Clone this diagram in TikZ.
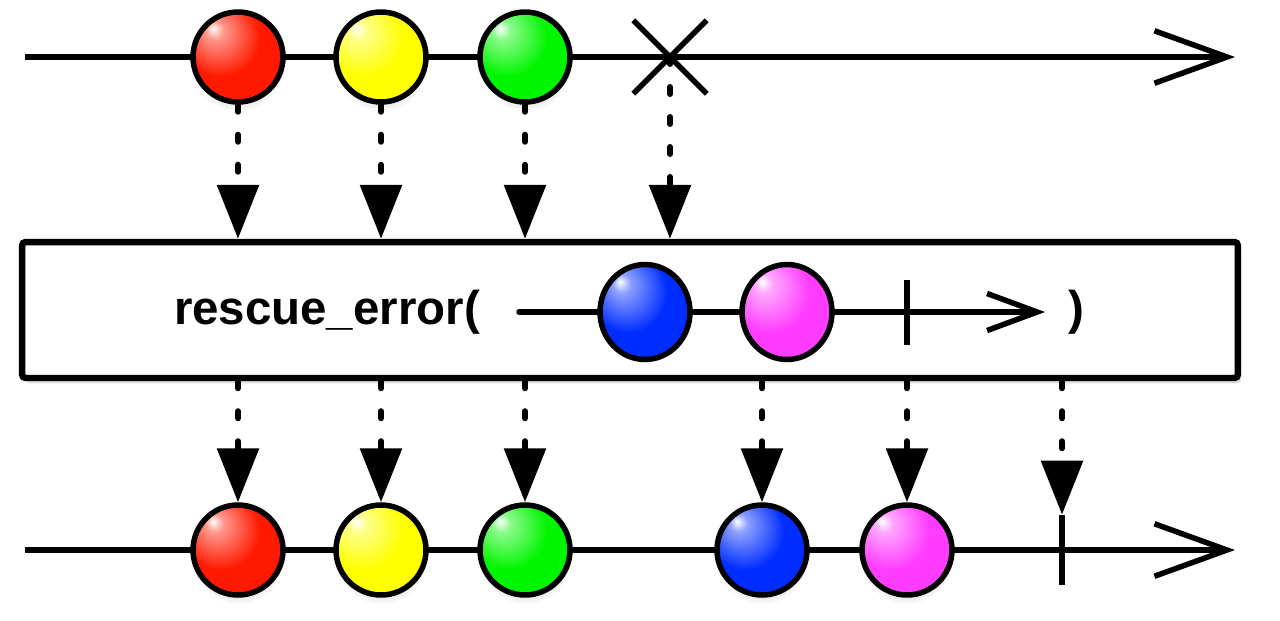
\documentclass[tikz,border=0pt]{standalone}
\usepackage{fontspec}
\setsansfont{Liberation Sans}
\usetikzlibrary{arrows.meta,shadows,shapes.geometric,shapes.misc,positioning}

\definecolor{redball}{RGB}{255,25,0}
\definecolor{yellowball}{RGB}{255,255,0}
\definecolor{greenball}{RGB}{0,245,0}
\definecolor{blueball}{RGB}{0,45,255}
\definecolor{pinkball}{RGB}{255,60,255}

\newcommand\marbleshading[2]{%
  \pgfdeclareradialshading{marble-#1}{\pgfpoint{-14bp}{16bp}}{%
    color(0bp)=(white); color(5bp)=(#2!45!white); color(22bp)=(#2);
    color(44bp)=(#2); color(58bp)=(#2!55!black); color(70bp)=(#2!50!black)}}
\marbleshading{red}{redball}
\marbleshading{yellow}{yellowball}
\marbleshading{green}{greenball}
\marbleshading{blue}{blueball}
\marbleshading{pink}{pinkball}

\tikzset{
  marble/.style={
      circle, draw, line width=0.11cm, minimum size=1.8cm, inner sep=0pt,
      shading=marble-#1,
      circular drop shadow={opacity=0.15,shadow xshift=0pt,shadow yshift=-5pt,shadow scale=1.02},
  },
  oval/.style={
      ellipse, draw, line width=0.11cm, minimum width=1.8cm, minimum height=1.9cm,
      inner sep=0pt, shading=marble-#1,
  },
  timeline/.style={
    draw, line width=0.11cm, -{Straight Barb[length=1.45cm,width=1.05cm]},
  },
  innerline/.style={
    draw, line width=0.11cm, line cap=round, -{Straight Barb[length=1cm,width=0.74cm]},
  },
  feed/.style={
    draw, line width=0.12cm, line cap=round, dash pattern=on 0.14cm off 0.46cm,
    -{Triangle[length=1.08cm,width=0.82cm]},
  },
  stop/.style={
    rectangle, fill=black, minimum width=0.11cm, minimum height=#1, inner sep=0pt,
  },
  operator/.style={
    rectangle, draw, line width=0.13cm, rounded corners=2pt, fill=white,
    minimum width=24.32cm, minimum height=2.72cm,
    drop shadow={opacity=0.25,shadow xshift=2pt,shadow yshift=-3pt},
  },
}

\begin{document}
\begin{tikzpicture}[x=0.02cm,y=-0.02cm,font=\sffamily\bfseries]
\useasboundingbox (0,0) rectangle (1280,620);

\coordinate (in start) at (25,57);
\coordinate (in end) at (1235,57);
\coordinate (out start) at (25,550);
\coordinate (out end) at (1235,550);
\draw [timeline] (in start) -- (in end);
\draw [timeline] (out start) -- (out end);

\node [marble=red] (in1) at (238,57) {};
\node [marble=yellow] (in2) at (381,57) {};
\node [marble=green] (in3) at (525,57) {};
\node [cross out, draw, line width=0.11cm, minimum size=1.36cm] (err) at (670,57) {};

\node [operator] (op) at (630,310) {};
\node [font=\fontsize{27}{32}\sffamily\bfseries] (name) at (327,312) {rescue\_error(};
\node [font=\fontsize{27}{32}\sffamily\bfseries] (close) at (1076,312) {)};
\coordinate (alt start) at (519,312);
\coordinate (alt end) at (1045,312);
\draw [innerline] (alt start) -- (alt end);
\node [oval=blue] (alt1) at (645,312) {};
\node [oval=pink] (alt2) at (787,312) {};
\node [stop=1.3cm] (altstop) at (907,312) {};

\node [marble=red] (out1) at (238,550) {};
\node [marble=yellow] (out2) at (381,550) {};
\node [marble=green] (out3) at (525,550) {};
\node [marble=blue] (out4) at (762,550) {};
\node [marble=pink] (out5) at (907,550) {};
\node [stop=1.4cm] (outstop) at (1062,550) {};

\draw [feed] (in1.south) -- (in1 |- op.north);
\draw [feed] (in2.south) -- (in2 |- op.north);
\draw [feed] (in3.south) -- (in3 |- op.north);
\draw [feed] (err.center) -- (err |- op.north);

\draw [feed] (op.south -| out1) -- (out1.north);
\draw [feed] (op.south -| out2) -- (out2.north);
\draw [feed] (op.south -| out3) -- (out3.north);
\draw [feed] (op.south -| out4) -- (out4.north);
\draw [feed] (op.south -| out5) -- (out5.north);
\draw [feed] (op.south -| outstop) -- (outstop.north);
\end{tikzpicture}
\end{document}
